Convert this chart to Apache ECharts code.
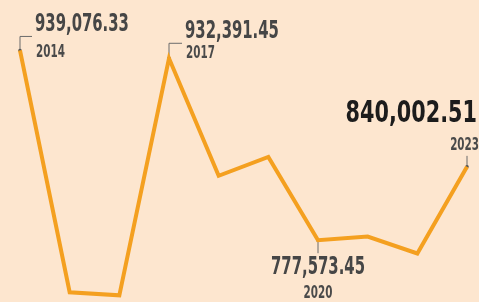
<!DOCTYPE html>
<html lang="en">
<head>
  <meta charset="utf-8" />
  <title>ECharts</title>
  <script src="https://cdn.jsdelivr.net/npm/echarts@6/dist/echarts.min.js"></script>
  <style>
    html, body { margin: 0; padding: 0; background: #fde6cf; }
  </style>
</head>
<body>
  <div id="main" style="width: 479px;height:302px;"></div>
  <script type="text/javascript">
    // data
    var years = ['2014', '2015', '2016', '2017', '2018', '2019', '2020', '2021', '2022', '2023'];
    var values = [939076.33, 733300, 730700, 932391.45, 832400, 848500, 777573.45, 780700, 766300, 840002.51];
    // which points carry a label
    var labelIdx = [0, 3, 6, 9];

    // label placement per labelled point (offsets from the point)
    var layouts = [
      { leader: [[0, 0], [0, -14], [12, -14]], vx: 15, vy: -26, yx: 16, yy: 2, align: 'left' },
      { leader: [[0, 0], [0, -15], [13, -15]], vx: 16, vy: -27, yx: 17, yy: -5, align: 'left' },
      { leader: [[0, 0], [0, 13]], vx: 0, vy: 27, yx: 0, yy: 53, align: 'center' },
      { leader: [[0, 0], [0, -11]], vx: 10, vy: -53, yx: 12, yy: -22, align: 'right', big: true }
    ];

    var narrow = '"Liberation Sans Narrow", "DejaVu Sans Condensed", sans-serif';

    function fmt(v) {
      var s = v.toFixed(2).split('.');
      return s[0].replace(/\B(?=(\d{3})+(?!\d))/g, ',') + '.' + s[1];
    }

    var labelData = labelIdx.map(function (i) { return [i, values[i]]; });

    var myChart = echarts.init(document.getElementById('main'));

    var option = {
      backgroundColor: '#fde6cf',
      animation: false,
      grid: { left: 20, right: 12, top: 0, bottom: 0 },
      xAxis: {
        type: 'category',
        data: years,
        boundaryGap: false,
        show: false
      },
      yAxis: {
        type: 'value',
        min: 725000,
        max: 982000,
        show: false
      },
      series: [
        {
          type: 'line',
          data: values,
          symbol: 'none',
          lineStyle: { color: '#f4a020', width: 4, join: 'miter' }
        },
        {
          type: 'custom',
          clip: false,
          data: labelData,
          encode: { x: 0, y: 1 },
          renderItem: function (params, api) {
            var i = api.value(0), v = api.value(1);
            var p = api.coord([i, v]);
            var lay = layouts[params.dataIndex];
            var big = !!lay.big;
            return {
              type: 'group',
              children: [
                {
                  type: 'polyline',
                  shape: { points: lay.leader.map(function (d) { return [p[0] + d[0], p[1] + d[1]]; }) },
                  style: { stroke: '#6b6b6b', lineWidth: 1, fill: null }
                },
                {
                  type: 'circle',
                  shape: { cx: p[0], cy: p[1], r: 1.8 },
                  style: { fill: '#555' }
                },
                {
                  type: 'text',
                  x: p[0] + lay.vx,
                  y: p[1] + lay.vy,
                  scaleX: big ? 0.77 : 0.66,
                  style: {
                    text: fmt(v),
                    font: (big ? 'bold 30px ' : 'bold 25px ') + narrow,
                    fill: big ? '#1c1c1c' : '#464646',
                    align: lay.align,
                    verticalAlign: 'middle'
                  }
                },
                {
                  type: 'text',
                  x: p[0] + lay.yx,
                  y: p[1] + lay.yy,
                  scaleX: 0.64,
                  style: {
                    text: years[i],
                    font: 'bold 18px ' + narrow,
                    fill: '#4a4a4a',
                    align: lay.align,
                    verticalAlign: 'middle'
                  }
                }
              ]
            };
          }
        }
      ]
    };
    myChart.setOption(option);
  </script>
</body>
</html>
